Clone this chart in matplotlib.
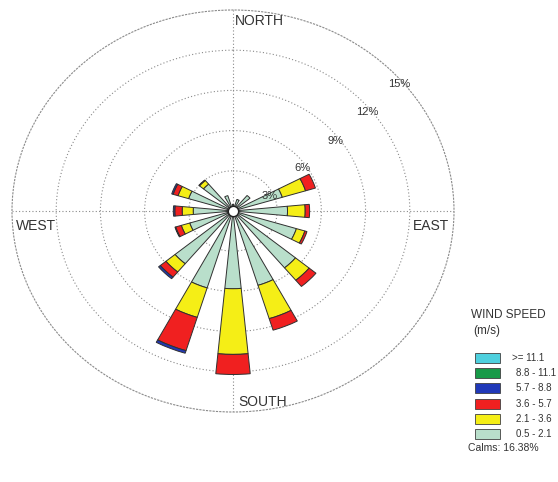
import numpy as np
import matplotlib
matplotlib.use("Agg")
import matplotlib.pyplot as plt
from matplotlib.patches import Rectangle

plt.rcParams['font.family'] = ['Liberation Sans', 'DejaVu Sans']

# ---------------- data ----------------
directions = ["N", "NNE", "NE", "ENE", "E", "ESE", "SE", "SSE",
              "S", "SSW", "SW", "WSW", "W", "WNW", "NW", "NNW"]
dir_angles_deg = [0, 22.5, 45, 67.5, 90, 112.5, 135, 157.5,
                  180, 202.5, 225, 247.5, 270, 292.5, 315, 337.5]

speed_classes = ["0.5 - 2.1", "2.1 - 3.6", "3.6 - 5.7", "5.7 - 8.8", "8.8 - 11.1", ">= 11.1"]
class_colors = ["#b9dfcb", "#f5ee16", "#f02020", "#2038b8", "#179a48", "#4ed0de"]

# frequency (%) per direction for each speed class
freq_05_21 = [0.5, 0.9, 1.5, 3.5, 3.7, 4.5, 5.5, 5.8, 5.8, 6.0, 5.1, 3.07, 2.7, 3.15, 2.6, 1.2]
freq_21_36 = [0.0, 0.0, 0.0, 1.65, 1.2, 0.6, 1.2, 2.6, 4.9, 2.3, 0.8, 0.6, 0.75, 0.75, 0.35, 0.0]
freq_36_57 = [0.0, 0.0, 0.0, 0.7, 0.3, 0.15, 0.6, 0.9, 1.5, 2.6, 0.5, 0.4, 0.5, 0.35, 0.05, 0.0]
freq_57_88 = [0.0, 0.0, 0.0, 0.0, 0.0, 0.0, 0.0, 0.0, 0.0, 0.2, 0.15, 0.05, 0.1, 0.1, 0.0, 0.0]
freq_88_111 = [0.0] * 16
freq_111 = [0.0] * 16
series = [freq_05_21, freq_21_36, freq_36_57, freq_57_88, freq_88_111, freq_111]

ring_values = [3, 6, 9, 12, 15]
ring_labels = ["3%", "6%", "9%", "12%", "15%"]
compass_labels = ["NORTH", "EAST", "SOUTH", "WEST"]
calms_text = "Calms: 16.38%"

# ---------------- figure ----------------
W, H = 558, 482
fig = plt.figure(figsize=(W / 100, H / 100), dpi=100)

def fx(px):
    return px / W

def fy(py):
    return 1 - py / H

ax = fig.add_axes([fx(12), fy(412), fx(442), 402 / H], projection='polar')
ax.set_aspect('auto')
ax.set_theta_zero_location('N')
ax.set_theta_direction(-1)
ax.set_ylim(0, 15)

grid_kw = dict(color='#8a8a8a', linestyle=(0, (1, 2)), linewidth=0.8)
ax.set_yticks(ring_values[:-1])
ax.set_yticklabels([])
ax.set_xticks(np.deg2rad([0, 90, 180, 270]))
ax.set_xticklabels([])
ax.grid(True, **grid_kw)
ax.spines['polar'].set_linestyle((0, (1, 2)))
ax.spines['polar'].set_color('#8a8a8a')
ax.spines['polar'].set_linewidth(0.8)
ax.set_axisbelow(True)

theta = np.deg2rad(dir_angles_deg)
width = np.deg2rad(11)
bottom = np.zeros(len(directions))
for vals, col in zip(series, class_colors):
    v = np.array(vals)
    mask = v > 0
    ax.bar(theta[mask], v[mask], width=width, bottom=bottom[mask], color=col,
           edgecolor='#303030', linewidth=0.7, zorder=3)
    bottom = bottom + v

# calm circle
ax.scatter([0], [0], s=55, facecolor='white', edgecolor='#202020', linewidth=1.0, zorder=6)

# ring labels
lab_angles = [66, 56, 53, 51, 50]
for rv, lab, ang in zip(ring_values, ring_labels, lab_angles):
    ax.text(np.deg2rad(ang), rv - 0.3, lab, ha='center', va='center',
            fontsize=8, color='#333333', zorder=7)

# compass labels (placed in axes fraction)
txt_kw = dict(fontsize=10, color='#333333', transform=ax.transAxes)
ax.text(0.505, 0.99, compass_labels[0], ha='left', va='top', **txt_kw)
ax.text(0.99, 0.48, compass_labels[1], ha='right', va='top', **txt_kw)
ax.text(0.512, 0.008, compass_labels[2], ha='left', va='bottom', **txt_kw)
ax.text(0.008, 0.48, compass_labels[3], ha='left', va='top', **txt_kw)

# ---------------- legend ----------------
fig.text(fx(471), fy(315), "WIND SPEED", fontsize=8.5, color='#333333', va='center', ha='left')
fig.text(fx(473), fy(331), "(m/s)", fontsize=8.5, color='#333333', va='center', ha='left')
legend_order = list(range(len(speed_classes)))[::-1]
for i, k in enumerate(legend_order):
    yc = 358 + 15.2 * i
    fig.patches.append(Rectangle((fx(475), fy(yc + 5)), 25 / W, 10 / H,
                                 transform=fig.transFigure, facecolor=class_colors[k],
                                 edgecolor='#404040', linewidth=0.6))
    xt = 512 if speed_classes[k].startswith(">") else 516
    fig.text(fx(xt), fy(yc), speed_classes[k], fontsize=7, color='#333333',
             va='center', ha='left')
fig.text(fx(468), fy(448), calms_text, fontsize=7.5, color='#333333', va='center', ha='left')

fig.savefig("out.png", dpi=100)
